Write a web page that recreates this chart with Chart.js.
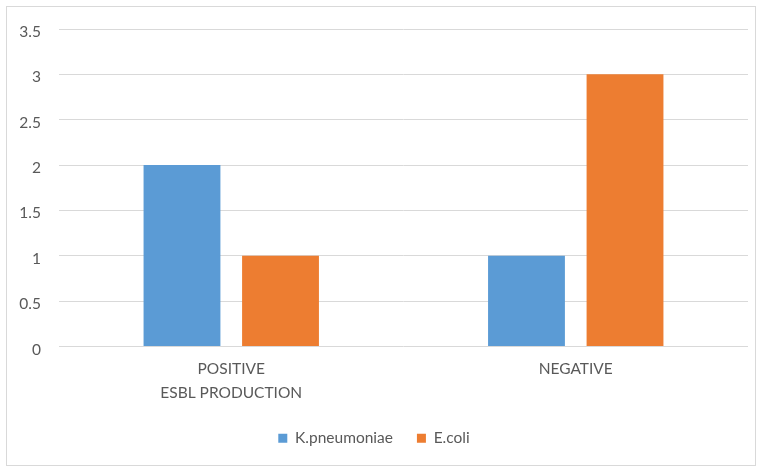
<!DOCTYPE html>
<html>
<head>
<meta charset="utf-8">
<script src="https://cdn.jsdelivr.net/npm/chart.js@4/dist/chart.umd.min.js"></script>
<style>
  html, body { margin: 0; padding: 0; background: #ffffff; }
  #wrap { width: 766px; height: 468px; position: relative; }
</style>
</head>
<body>
<div id="wrap"><canvas id="c" width="766" height="468"></canvas></div>
<script>
// Category labels (first one carries the axis caption on a second line)
const categories = [["POSITIVE", "ESBL PRODUCTION"], "NEGATIVE"];
const kPneumoniae = [2, 1];
const eColi = [1, 3];
const yTicks = [0, 0.5, 1, 1.5, 2, 2.5, 3, 3.5];

const textColor = "#595959";
const gridColor = "#d9d9d9";
const fontFamily = "Lato, 'Open Sans', sans-serif";
const fontSize = 15.5;

// White page with a thin frame around the chart
const framePlugin = {
  id: "frame",
  beforeDraw(chart) {
    const ctx = chart.ctx;
    ctx.save();
    ctx.fillStyle = "#ffffff";
    ctx.fillRect(0, 0, chart.width, chart.height);
    ctx.strokeStyle = gridColor;
    ctx.lineWidth = 1;
    ctx.strokeRect(6.5, 6.5, 749, 459);
    ctx.restore();
  }
};

new Chart(document.getElementById("c"), {
  type: "bar",
  data: {
    labels: categories,
    datasets: [
      { label: "K.pneumoniae", data: kPneumoniae, backgroundColor: "#5b9bd5" },
      { label: "E.coli", data: eColi, backgroundColor: "#ed7d31" }
    ]
  },
  options: {
    responsive: false,
    animation: false,
    devicePixelRatio: 1,
    categoryPercentage: 0.572,
    barPercentage: 0.78,
    layout: { padding: { left: 0, right: 18, top: 29, bottom: 12 } },
    plugins: {
      legend: {
        position: "bottom",
        labels: {
          color: textColor,
          font: { family: fontFamily, size: fontSize },
          boxWidth: 9,
          boxHeight: 9,
          padding: 24
        }
      },
      tooltip: { enabled: false }
    },
    scales: {
      x: {
        grid: { display: false, drawTicks: false },
        border: { display: false },
        afterFit(axis) { axis.height = 60; },
        ticks: {
          color: textColor,
          font: { family: fontFamily, size: fontSize, lineHeight: 1.55 },
          padding: 10
        }
      },
      y: {
        min: 0,
        max: 3.5,
        afterBuildTicks(axis) { axis.ticks = yTicks.map(v => ({ value: v })); },
        afterFit(axis) { axis.width = 59; },
        grid: { color: gridColor, lineWidth: 1, drawTicks: false },
        border: { display: false },
        ticks: {
          color: textColor,
          font: { family: fontFamily, size: fontSize },
          padding: 18,
          labelOffset: 3,
          callback: (v) => String(v)
        }
      }
    }
  },
  plugins: [framePlugin]
});
</script>
</body>
</html>
